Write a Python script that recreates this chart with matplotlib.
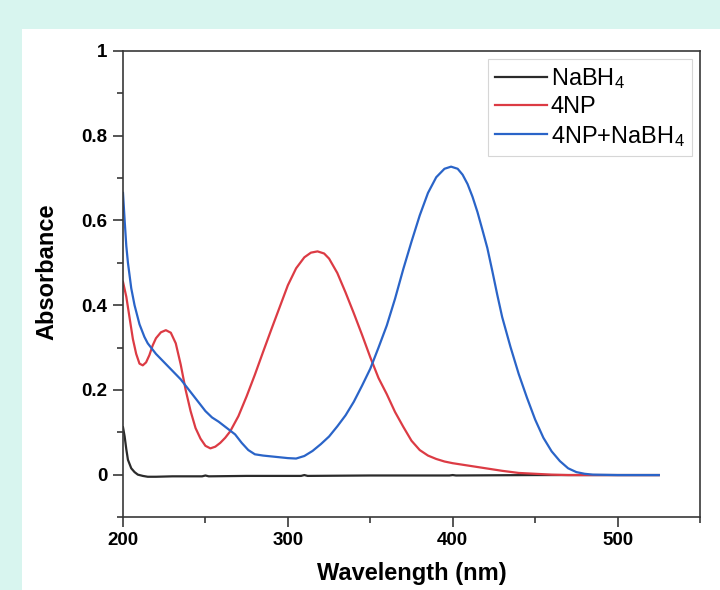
import matplotlib
matplotlib.use("Agg")
import matplotlib.pyplot as plt
from matplotlib.patches import Rectangle
from matplotlib.ticker import MultipleLocator, FuncFormatter

plt.rcParams["font.family"] = ["Liberation Sans", "DejaVu Sans"]
plt.rcParams["mathtext.fontset"] = "custom"
plt.rcParams["mathtext.rm"] = "Liberation Sans"
plt.rcParams["mathtext.it"] = "Liberation Sans:italic"
plt.rcParams["mathtext.bf"] = "Liberation Sans:bold"

# UV-vis spectra (wavelength in nm, absorbance)
wl_nabh4 = [200, 201, 202, 203, 205, 207, 209, 212, 215, 220, 230, 248, 250, 252,
            275, 300, 308, 310, 312, 350, 398, 400, 402, 450, 500, 525]
abs_nabh4 = [0.112, 0.09, 0.06, 0.035, 0.015, 0.006, 0.0, -0.003, -0.005, -0.005,
             -0.004, -0.004, -0.002, -0.004, -0.003, -0.003, -0.003, -0.001, -0.003,
             -0.002, -0.002, -0.001, -0.002, -0.001, -0.001, -0.001]

wl_4np = [200, 202, 204, 206, 208, 210, 212, 214, 216, 218, 220, 223, 226, 229, 232,
          235, 238, 241, 244, 247, 250, 253, 256, 259, 262, 265, 270, 275, 280, 285,
          290, 295, 300, 305, 310, 314, 318, 322, 325, 330, 335, 340, 345, 350, 355,
          360, 365, 370, 375, 380, 385, 390, 395, 400, 410, 420, 430, 440, 450, 460,
          470, 480, 500, 525]
abs_4np = [0.455, 0.42, 0.37, 0.32, 0.285, 0.262, 0.258, 0.265, 0.282, 0.305, 0.322,
           0.336, 0.341, 0.335, 0.31, 0.26, 0.2, 0.15, 0.11, 0.085, 0.068, 0.062,
           0.066, 0.075, 0.087, 0.102, 0.138, 0.185, 0.236, 0.29, 0.343, 0.395, 0.447,
           0.487, 0.513, 0.524, 0.527, 0.522, 0.51, 0.476, 0.43, 0.381, 0.33, 0.277,
           0.228, 0.19, 0.148, 0.113, 0.08, 0.058, 0.045, 0.037, 0.031, 0.027, 0.021,
           0.015, 0.009, 0.004, 0.002, 0.0, -0.001, -0.001, -0.001, -0.001]

wl_mix = [200, 201, 202, 203, 205, 207, 210, 213, 215, 220, 225, 230, 235, 240, 245,
          250, 254, 258, 263, 268, 272, 276, 280, 285, 290, 295, 300, 305, 310, 315,
          320, 325, 330, 335, 340, 345, 350, 355, 360, 365, 370, 375, 380, 385, 390,
          395, 399, 403, 406, 409, 412, 415, 418, 421, 424, 427, 430, 435, 440, 445,
          450, 455, 460, 465, 470, 475, 480, 485, 500, 525]
abs_mix = [0.665, 0.6, 0.54, 0.5, 0.44, 0.4, 0.355, 0.325, 0.31, 0.285, 0.265, 0.245,
           0.225, 0.2, 0.175, 0.15, 0.135, 0.125, 0.11, 0.095, 0.075, 0.058, 0.048,
           0.045, 0.043, 0.041, 0.039, 0.038, 0.044, 0.056, 0.072, 0.09, 0.114, 0.14,
           0.172, 0.21, 0.25, 0.3, 0.352, 0.415, 0.485, 0.55, 0.612, 0.665, 0.702,
           0.722, 0.727, 0.722, 0.708, 0.686, 0.656, 0.62, 0.578, 0.535, 0.481, 0.425,
           0.372, 0.302, 0.238, 0.182, 0.13, 0.087, 0.055, 0.032, 0.015, 0.006, 0.002,
           0.0, -0.001, -0.001]

labels = ["NaBH$_4$", "4NP", "4NP+NaBH$_4$"]
colors = ["#2b2b2b", "#dc3b44", "#2a64c8"]

fig = plt.figure(figsize=(7.2, 5.9), dpi=100, facecolor="#d8f5ef")
panel = Rectangle((22 / 720, 0), 1 - 22 / 720, (590 - 29) / 590,
                  transform=fig.transFigure, facecolor="white",
                  edgecolor="none", zorder=-10)
fig.patches.append(panel)

ax = fig.add_axes([123 / 720, (590 - 517) / 590, (700 - 123) / 720, (517 - 51) / 590])
ax.set_zorder(5)
ax.set_facecolor("white")

for wl, ab, lab, col in zip([wl_nabh4, wl_4np, wl_mix], [abs_nabh4, abs_4np, abs_mix],
                            labels, colors):
    ax.plot(wl, ab, color=col, lw=1.6, label=lab)

ax.set_xlim(200, 550)
ax.set_ylim(-0.1, 1.0)
ax.xaxis.set_major_locator(MultipleLocator(100))
ax.xaxis.set_minor_locator(MultipleLocator(50))
ax.yaxis.set_major_locator(MultipleLocator(0.2))
ax.yaxis.set_minor_locator(MultipleLocator(0.1))
ax.yaxis.set_major_formatter(FuncFormatter(lambda v, p: f"{v:g}" if abs(v) > 1e-9 else "0"))

for s in ax.spines.values():
    s.set_color("#383838")
    s.set_linewidth(1.2)

ax.tick_params(which="both", direction="out", color="#383838", width=1.2,
               top=False, right=False)
ax.tick_params(which="major", length=7, labelsize=13.5, pad=4)
ax.tick_params(which="minor", length=4)
for t in ax.get_xticklabels() + ax.get_yticklabels():
    t.set_fontweight("bold")

ax.set_xlabel("Wavelength (nm)", fontsize=17, fontweight="bold", labelpad=9)
ax.set_ylabel("Absorbance", fontsize=17, fontweight="bold")
ax.yaxis.set_label_coords(-0.112, 0.526)

leg = ax.legend(loc="upper right", fontsize=17, frameon=True, fancybox=False,
                edgecolor="#cccccc", handlelength=2.2, handletextpad=0.15,
                labelspacing=0.22, borderaxespad=0.35, borderpad=0.3)
leg.get_frame().set_linewidth(0.8)

fig.savefig("out.png", dpi=100, facecolor=fig.get_facecolor())
